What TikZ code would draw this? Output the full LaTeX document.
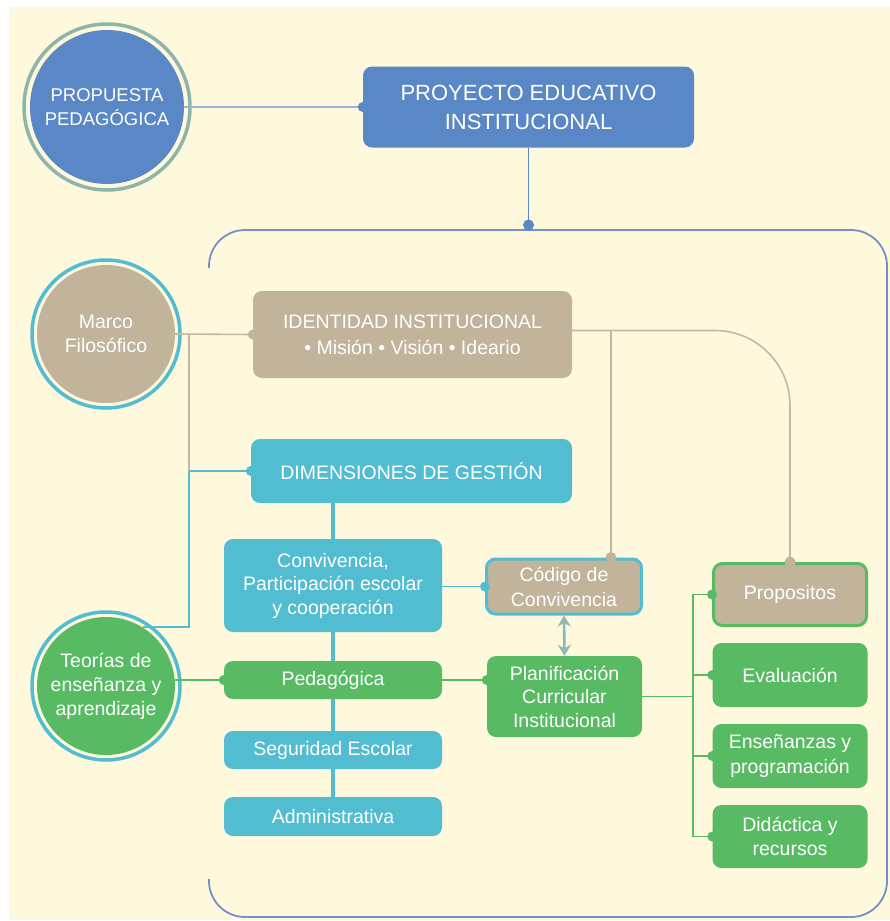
\documentclass[tikz,border=0pt]{standalone}
\usepackage{fontspec}
\setmainfont{Liberation Sans}
\usetikzlibrary{arrows.meta}
\definecolor{cream}{HTML}{FEF8DC}
\definecolor{pblue}{HTML}{5A87C6}
\definecolor{ptan}{HTML}{C2B49A}
\definecolor{pcyan}{HTML}{52BCD0}
\definecolor{pgreen}{HTML}{59BA64}
\definecolor{pframe}{HTML}{7390C8}
\definecolor{pring}{HTML}{8DB5AA}
\definecolor{ptanline}{HTML}{C6B8A0}
\definecolor{parrow}{HTML}{8FB7B7}
\definecolor{plightblue}{HTML}{9BB3D6}
\begin{document}
\begin{tikzpicture}[x=1pt,y=-1pt,
  every node/.style={text=white, font=\fontsize{19.5}{24}\selectfont, align=center, inner sep=0pt},
  boxb/.style={rectangle, rounded corners=9pt, fill=pblue},
  boxc/.style={rectangle, rounded corners=9pt, fill=pcyan},
  boxg/.style={rectangle, rounded corners=9pt, fill=pgreen},
  boxt/.style={rectangle, rounded corners=9pt, fill=ptan},
  bubble/.style={circle, minimum size=138pt},
  tanl/.style={ptanline, line width=1.6pt},
  cyl/.style={pcyan, line width=1.8pt},
  grl/.style={pgreen, line width=1.8pt},
  spine/.style={pcyan, line width=4.2pt},
  ring/.style={line width=3.5pt}]
% background
\fill[white] (0,0) rectangle (890,921);
\fill[cream] (9,7) rectangle (890,920);
\useasboundingbox (0,0) rectangle (890,921);

% frame
\draw[pframe, line width=1.8pt, rounded corners=36pt] (209,268) |- (887,230) |- (209,917) -- (209,879);

% nodes
\node[bubble, fill=pblue, minimum size=154pt, font=\fontsize{18.5}{24}\selectfont] (prop) at (107,107) {PROPUESTA\\PEDAG\'OGICA};
\draw[pring, ring] (prop.center) circle[radius=83pt];
\node[boxb, minimum width=331pt, minimum height=81pt, font=\fontsize{22}{29}\selectfont] (pei) at (528.5,107) {PROYECTO EDUCATIVO\\INSTITUCIONAL};

\node[bubble, fill=ptan] (marco) at (106,334) {Marco\\Filosófico};
\draw[pcyan, ring] (marco.center) circle[radius=74pt];
\node[boxt, minimum width=319pt, minimum height=87pt, font=\fontsize{19.5}{26}\selectfont] (ident) at (412.5,334.5) {IDENTIDAD INSTITUCIONAL\\\textbullet{} Misión \textbullet{} Visión \textbullet{} Ideario};
\node[boxc, minimum width=321pt, minimum height=64pt] (dim) at (411.5,471) {DIMENSIONES DE GESTIÓN};
\node[boxc, minimum width=218pt, minimum height=93pt, font=\fontsize{19.5}{23.5}\selectfont] (conv) at (333,585.5) {Convivencia,\\Participación escolar\\y cooperación};
\node[boxg, minimum width=218pt, minimum height=38pt] (ped) at (333,680) {Pedagógica};
\node[boxc, minimum width=218pt, minimum height=38pt] (seg) at (333,750) {Seguridad Escolar};
\node[boxc, minimum width=218pt, minimum height=39pt] (adm) at (333,816.5) {Administrativa};

\node[bubble, fill=pgreen] (teo) at (106,686) {Teorías de\\enseñanza y\\aprendizaje};
\draw[pcyan, ring] (teo.center) circle[radius=74pt];

\node[boxt, draw=pcyan, line width=3pt, minimum width=155pt, minimum height=55pt, font=\fontsize{19.5}{25}\selectfont] (cod) at (564,586.5) {Código de\\Convivencia};
\node[boxg, minimum width=155pt, minimum height=81pt, font=\fontsize{19.5}{23.5}\selectfont] (plan) at (564.5,696.5) {Planificación\\Curricular\\Institucional};

\node[boxt, draw=pgreen, line width=3pt, minimum width=153pt, minimum height=62pt] (prp) at (790,594.5) {Propositos};
\node[boxg, minimum width=155pt, minimum height=64pt] (eva) at (790,675) {Evaluación};
\node[boxg, minimum width=155pt, minimum height=64pt, font=\fontsize{19.5}{25}\selectfont] (ens) at (790,756) {Enseñanzas y\\programación};
\node[boxg, minimum width=155pt, minimum height=63pt] (did) at (790,836.5) {Didáctica y\\recursos};

% connector coordinates
\coordinate (ftop) at (528.5,225);
\coordinate (j1) at (189,334.5);
\coordinate (j2) at (189,471);
\coordinate (bx) at (693,696.5);

% connectors
\draw[plightblue, line width=1.8pt] (pei.west -| prop.east) -- (pei.west);
\fill[pblue] (pei.west) circle[radius=5pt];
\draw[pblue, line width=1.5pt] (pei.south) -- (ftop);
\fill[pblue] (ftop) circle[radius=5.5pt];

\draw[tanl] (marco.east) -- (ident.west);
\fill[ptan] (ident.west) circle[radius=5pt];
\draw[tanl] (j1) -- (j2);
\draw[cyl] (j2) -- (dim.west);
\fill[pcyan] (dim.west) circle[radius=5pt];
\draw[cyl] (j2) |- (teo.58);

\draw[spine] (conv.north |- dim.south) -- (conv.north);
\draw[spine] (conv.south) -- (ped.north);
\draw[spine] (ped.south) -- (seg.north);
\draw[spine] (seg.south) -- (adm.north);

\draw[cyl] (cod.west -| conv.east) -- (cod.west);
\fill[pcyan] (cod.west) circle[radius=5pt];

\draw[grl] (ped.west -| teo.east) -- (ped.west);
\fill[pgreen] (ped.west) circle[radius=5pt];
\draw[grl] (ped.east) -- (ped.east -| plan.west);
\fill[pgreen] (ped.east -| plan.west) circle[radius=5pt];

\draw[tanl] ([yshift=4pt]ident.east) -| ([xshift=47pt]cod.north);
\fill[ptan] ([xshift=47pt]cod.north) circle[radius=5.5pt];
\draw[tanl, rounded corners=75pt] ([yshift=4pt]ident.east) -| (prp.north);
\fill[ptan] (prp.north) circle[radius=5.5pt];

\draw[parrow, line width=2.6pt, {Stealth[length=11pt,width=13pt]}-{Stealth[length=11pt,width=13pt]}] (cod.south) -- (plan.north);

\draw[grl] (plan.east) -- (bx);
\draw[grl] (bx) |- (prp.west);
\draw[grl] (bx) |- (eva.west);
\draw[grl] (bx) |- (ens.west);
\draw[grl] (bx) |- (did.west);
\foreach \n in {prp,eva,ens,did} \fill[pgreen] (\n.west) circle[radius=5pt];
\end{tikzpicture}
\end{document}
